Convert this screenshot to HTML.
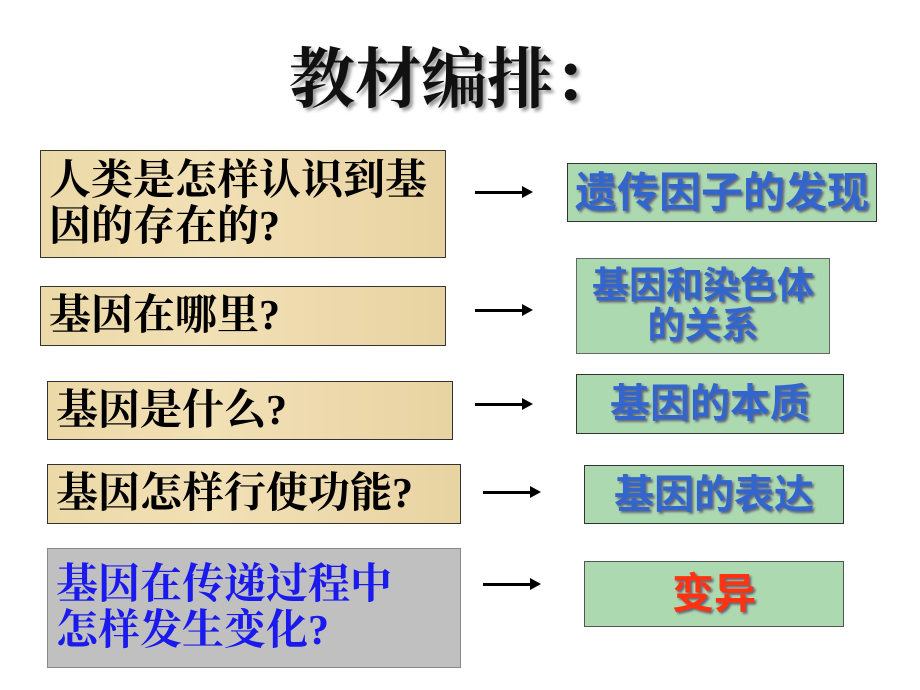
<!DOCTYPE html>
<html><head><meta charset="utf-8"><style>
body{margin:0;width:920px;height:690px;background:#fff;position:relative;overflow:hidden}
.t{position:absolute;left:-6px;width:920px;top:26px;text-align:center;font:bold 66px "Liberation Serif","Noto Serif CJK SC",serif;color:#111;text-shadow:3px 3px 3px #999}
.l{position:absolute;box-sizing:border-box;border:1.5px solid #333;background:linear-gradient(90deg,#ecd9a8,#f2e0b6 40%,#e8d3a2);font:bold 42px/46px "Liberation Serif","Noto Serif CJK SC",serif;color:#000;padding-left:8px;display:flex;align-items:center}
.r{position:absolute;box-sizing:border-box;border:1.5px solid #333;background:#acd9b0;font:bold 40px/42px "Liberation Sans","Noto Sans CJK SC",sans-serif;color:#3366cc;text-shadow:2px 2px 2px #667;display:flex;align-items:center;justify-content:center;text-align:center}
.a{position:absolute;height:3px;background:#000;width:48px}
.a:after{content:"";position:absolute;right:-10px;top:-5px;border-left:11px solid #000;border-top:6.5px solid transparent;border-bottom:6.5px solid transparent}
</style></head><body>
<div class="t">教材编排：</div>
<div class="l" style="left:40px;top:150px;width:406px;height:108px">人类是怎样认识到基<br>因的存在的?</div>
<div class="l" style="left:40px;top:286px;width:406px;height:60px">基因在哪里?</div>
<div class="l" style="left:47px;top:381px;width:406px;height:59px">基因是什么?</div>
<div class="l" style="left:47px;top:464px;width:414px;height:60px">基因怎样行使功能?</div>
<div class="l" style="left:47px;top:548px;width:414px;height:120px;background:#c0c0c0;color:#1a1aee;border-color:#888">基因在传递过程中<br>怎样发生变化?</div>
<div class="a" style="left:475px;top:191px"></div>
<div class="a" style="left:475px;top:309px"></div>
<div class="a" style="left:475px;top:403px"></div>
<div class="a" style="left:483px;top:491px"></div>
<div class="a" style="left:483px;top:583px"></div>
<div class="r" style="left:567px;top:163px;width:310px;height:59px;font-size:42px">遗传因子的发现</div>
<div class="r" style="left:576px;top:258px;width:254px;height:96px;border-color:#666;font-size:37px;line-height:40px">基因和染色体<br>的关系</div>
<div class="r" style="left:576px;top:374px;width:268px;height:60px">基因的本质</div>
<div class="r" style="left:584px;top:465px;width:260px;height:59px">基因的表达</div>
<div class="r" style="left:584px;top:561px;width:260px;height:66px;color:#ff3311;font-size:42px;border-color:#555">变异</div>
</body></html>
